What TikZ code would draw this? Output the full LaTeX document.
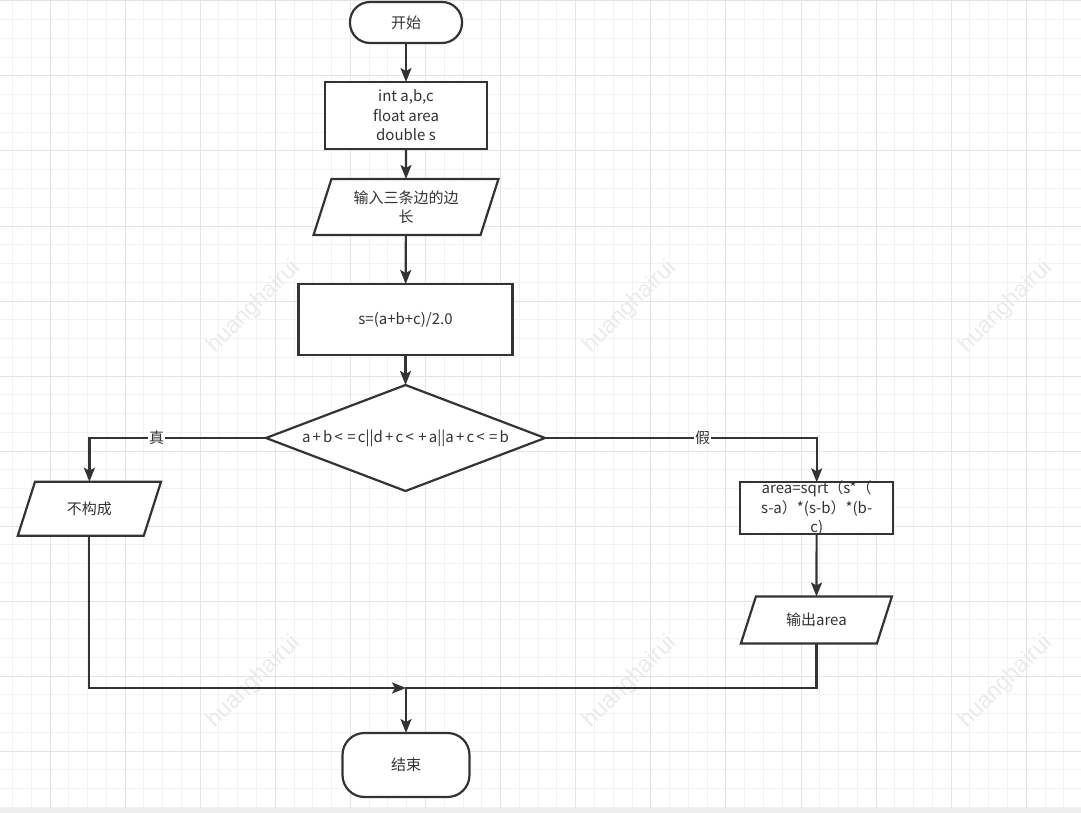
\documentclass[tikz,border=0pt]{standalone}
\usepackage{fontspec}
\setmainfont{Noto Sans CJK SC}
\newfontfamily\markfont{Liberation Sans}
\usetikzlibrary{shapes.geometric, arrows.meta, positioning}
\definecolor{inkgray}{HTML}{333333}
\definecolor{gridminor}{HTML}{F2F2F2}
\definecolor{gridmajor}{HTML}{E4E4E4}
\definecolor{markgray}{HTML}{EAEAEA}
\definecolor{barfill}{HTML}{EEEEEE}
\newcommand{\op}[1]{\kern2.2pt#1\kern2.2pt}

\begin{document}
\begin{tikzpicture}[x=1pt, y=-1pt, node distance=30pt,
          base/.style={draw=inkgray, line width=2.2pt, fill=white, text=inkgray, font=\fontsize{15}{19.5}\selectfont, align=center, inner sep=2pt, outer sep=0pt},
          termbox/.style={base, rectangle, rounded corners=20pt},
          procbox/.style={base, rectangle},
          iobox/.style={base, rectangle, xslant=0.32},
          iotext/.style={text=inkgray, font=\fontsize{15}{19.5}\selectfont, align=center},
          decbox/.style={base, diamond, aspect=2.63},
          arrow/.style={-{Stealth[length=14pt, width=11pt, inset=3pt]}, line width=2.2pt, color=inkgray},
          flag/.style={fill=white, text=inkgray, inner sep=1pt, font=\fontsize{15}{18}\selectfont},
          minorline/.style={draw=gridminor, line width=1pt},
          majorline/.style={draw=gridmajor, line width=1pt},
          watermark/.style={text=markgray, font=\markfont\fontsize{23}{23}\selectfont, rotate=45}]

        \useasboundingbox (0,0) rectangle (1081,813);

        % grid paper
        \foreach \i in {0,...,57} \draw [minorline] ({12.45+18.775*\i},0) -- ++(0,808);
        \foreach \j in {0,...,43} \draw [minorline] (0,{1+18.75*\j}) -- ++(1081,0);
        \foreach \i in {0,...,13} \draw [majorline] ({50+75.1*\i},0) -- ++(0,808);
        \foreach \j in {0,...,10} \draw [majorline] (0,{1+75*\j}) -- ++(1081,0);
        \fill [barfill] (0,808) rectangle (1081,813);

        \foreach \wx in {254,630,1006}
          \foreach \wy in {307,682}
            \node [watermark] (wm-\wx-\wy) at (\wx,\wy) {huanghairui};

        \node [termbox, minimum width=112pt, minimum height=41pt] (start) at (406,22.5) {开始};
        \node [procbox, minimum width=162pt, minimum height=67pt, below=39pt of start] (decl) {int a,b,c\\float area\\double s};
        \node [iobox, minimum width=167pt, minimum height=56pt] (input) at (406,207) {};
        \node [iotext] (input-txt) at (input) {输入三条边的边\\长};
        \node [procbox, minimum width=214pt, minimum height=71pt] (half) at (405.5,319.5) {s=(a+b+c)/2.0};
        \node [decbox, minimum width=279pt, minimum height=106pt, below=30pt of half] (check) {a\op{+}b\op{<}\op{=}c||d\op{+}c\op{<}\op{+}a||a\op{+}c\op{<}\op{=}b};
        \node [iobox, minimum width=126pt, minimum height=54pt] (fail) at (89.4,508.7) {};
        \node [iotext] (fail-txt) at (fail) {不构成};
        \node [procbox, minimum width=153pt, minimum height=52pt,
               label={[iotext]center:area=sqrt（s*（\\s-a）*(s-b）*(b-\\c)}] (area) at (816.7,508.3) {};
        \node [iobox, minimum width=136pt, minimum height=47pt] (out) at (816.4,620) {};
        \node [iotext] (out-txt) at (out) {输出area};
        \node [termbox, rounded corners=22pt, minimum width=127pt, minimum height=64pt] (stop) at (406,765) {结束};
        \coordinate (join) at (406,688);

        \draw [arrow] (start) -- (decl);
        \draw [arrow] (decl) -- (input);
        \draw [arrow] (input) -- (half);
        \draw [arrow] (half) -- (check);
        \draw [arrow] (check) -| node [flag, pos=0.31] (yes) {真} (fail);
        \draw [arrow] (check) -| node [flag, pos=0.29] (no) {假} (area);
        \draw [arrow] (area) -- (out);
        \draw [arrow] (fail) |- (join);
        \draw [arrow] (out) |- (join) -- (stop);
      \end{tikzpicture}
\end{document}
